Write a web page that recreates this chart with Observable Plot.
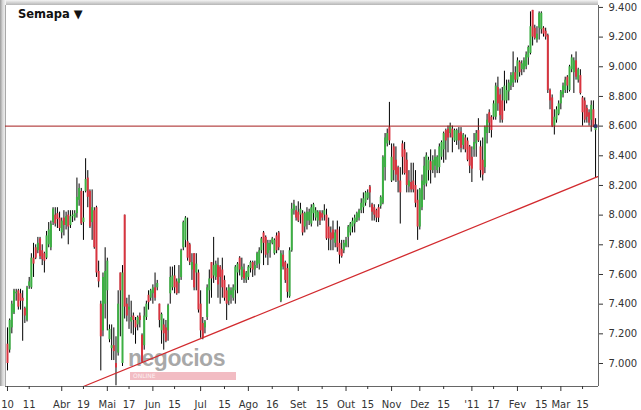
<!DOCTYPE html>
<html><head><meta charset="utf-8">
<script src="https://cdn.jsdelivr.net/npm/d3@7"></script>
<script src="https://cdn.jsdelivr.net/npm/@observablehq/plot@0.6"></script>
<style>
body{margin:0;background:#fff;}
#wrap{position:relative;width:641px;height:410px;overflow:hidden;font-family:"DejaVu Sans",Verdana,sans-serif;}
#chart{position:absolute;left:0;top:0;}
#title{position:absolute;left:18px;top:7px;font-weight:bold;font-size:11.5px;color:#111;z-index:3;}
#topshade{position:absolute;left:5px;top:0;width:593px;height:5px;background:linear-gradient(#f4f4f4,#b5b5b5);}
#leftshade{position:absolute;left:0;top:0;width:6px;height:386px;background:linear-gradient(to right,#9a9a9a,#d8d8d8 45%,#f6f6f6);}
#wm{position:absolute;left:128px;top:349px;height:18px;line-height:18px;overflow:visible;font-family:"Liberation Sans",Arial,sans-serif;font-weight:bold;font-size:23px;color:rgba(140,140,140,0.75);letter-spacing:-0.5px;}
#wmbar{position:absolute;left:130px;top:372px;width:106px;height:8px;background:rgba(236,160,170,0.7);font-size:6px;line-height:8px;color:rgba(255,255,255,0.8);padding-left:3px;box-sizing:border-box;}
</style></head>
<body><div id="wrap">
<div id="topshade"></div><div id="leftshade"></div>
<div id="wm">negocios</div><div id="wmbar">ONLINE</div>
<div id="chart"></div>
<div id="title">Semapa ▼</div>
</div>
<script>
const open = [
7.13,7.09,7.24,7.34,7.47,7.49,7.47,7.44,7.37,7.29,
7.52,7.51,7.71,7.78,7.76,7.84,7.76,7.74,7.71,7.80,
7.78,7.95,8.00,8.01,7.98,7.88,7.98,7.93,8.00,7.93,
7.99,7.98,8.01,8.10,8.16,7.95,8.16,8.25,8.16,7.95,
8.03,8.05,7.62,7.40,7.22,7.40,7.49,7.16,7.10,7.12,
7.00,7.07,7.61,7.00,8.00,7.40,7.36,7.28,7.32,7.29,
7.26,7.32,7.19,7.12,7.31,7.46,7.44,7.47,7.51,7.51,
7.40,7.22,7.26,7.24,7.22,7.47,7.51,7.59,7.55,7.54,
7.58,7.78,7.83,7.82,7.80,7.63,7.74,7.61,7.61,7.40,
7.27,7.24,7.31,7.49,7.68,7.59,7.58,7.66,7.65,7.63,
7.56,7.49,7.42,7.46,7.44,7.49,7.61,7.71,7.58,7.63,
7.56,7.58,7.64,7.68,7.63,7.66,7.67,7.76,7.88,7.85,
7.74,7.76,7.81,7.74,7.86,7.88,7.42,7.73,7.68,7.64,
7.45,7.76,8.03,8.03,8.02,8.00,8.01,7.92,7.96,7.96,
7.94,8.01,7.98,7.96,8.02,8.01,8.00,8.00,7.92,7.88,
7.90,7.81,7.90,7.81,7.77,7.76,7.79,7.85,7.88,7.92,
7.94,7.96,7.98,8.03,8.05,8.08,8.11,8.19,8.07,8.05,
8.03,8.05,8.06,8.08,8.32,8.48,8.59,8.23,8.46,8.37,
8.32,8.23,8.48,8.44,8.37,8.19,8.22,8.23,8.20,8.10,
7.92,8.05,8.20,8.21,8.30,8.36,8.30,8.33,8.30,8.32,
8.39,8.44,8.57,8.58,8.55,8.58,8.50,8.50,8.55,8.56,
8.47,8.52,8.50,8.46,8.39,8.44,8.48,8.57,8.46,8.37,
8.32,8.55,8.69,8.66,8.66,8.66,8.86,8.81,8.77,8.77,
8.77,8.83,8.87,8.89,8.96,8.91,9.03,8.98,8.98,9.00,
9.06,9.09,9.38,9.26,9.18,9.26,9.25,9.26,9.24,9.21,
8.84,8.79,8.60,8.64,8.68,8.75,8.81,8.84,8.93,8.84,
8.98,8.96,9.04,8.91,8.94,8.79,8.77,8.72,8.69,8.64,
8.71,8.57];
const high = [
7.24,7.30,7.42,7.50,7.50,7.50,7.50,7.49,7.38,7.52,
7.58,7.74,7.81,7.80,7.85,7.85,7.80,7.75,7.89,7.95,
7.96,8.05,8.05,8.05,8.02,7.98,8.03,8.02,8.03,8.03,
8.03,8.03,8.25,8.21,8.18,8.16,8.38,8.30,8.17,8.17,
8.05,8.06,7.69,7.42,7.61,7.78,7.71,7.26,7.26,7.24,
7.18,7.49,7.61,7.66,8.00,7.44,7.46,7.42,7.34,7.31,
7.32,7.34,7.20,7.38,7.42,7.49,7.50,7.53,7.61,7.56,
7.40,7.34,7.30,7.29,7.40,7.65,7.65,7.66,7.57,7.66,
7.77,7.96,7.99,7.98,7.81,7.74,7.74,7.74,7.63,7.49,
7.31,7.29,7.53,7.63,7.68,7.85,7.69,7.71,7.66,7.71,
7.59,7.51,7.53,7.51,7.53,7.66,7.68,7.72,7.71,7.67,
7.62,7.66,7.69,7.69,7.69,7.75,7.78,7.85,7.89,7.86,
7.83,7.83,7.85,7.84,7.88,7.89,7.76,7.76,7.69,7.67,
7.78,8.08,8.10,8.06,8.09,8.08,8.03,8.02,8.05,8.04,
8.07,8.08,8.05,8.03,8.03,8.03,8.07,8.04,7.98,7.92,
7.96,7.90,7.96,7.92,7.83,7.83,7.85,7.93,7.95,7.98,
8.00,8.02,8.04,8.11,8.15,8.16,8.17,8.20,8.08,8.07,
8.04,8.07,8.13,8.40,8.55,8.58,8.76,8.48,8.48,8.46,
8.33,8.32,8.50,8.49,8.42,8.30,8.35,8.35,8.30,8.17,
8.18,8.27,8.39,8.42,8.39,8.44,8.40,8.44,8.40,8.48,
8.50,8.56,8.58,8.60,8.62,8.60,8.58,8.58,8.59,8.59,
8.55,8.54,8.52,8.47,8.46,8.55,8.57,8.65,8.50,8.52,
8.60,8.68,8.71,8.67,8.77,8.89,8.93,8.85,8.86,8.97,
8.91,8.91,8.96,9.10,9.00,9.06,9.04,9.04,9.06,9.10,
9.14,9.37,9.38,9.28,9.27,9.37,9.37,9.27,9.26,9.22,
8.85,8.81,8.71,8.73,8.77,8.84,8.89,8.93,8.94,9.01,
9.08,9.06,9.10,8.99,8.98,8.80,8.79,8.74,8.71,8.77,
8.77,8.65];
const low = [
6.95,7.07,7.20,7.33,7.42,7.36,7.36,7.15,7.27,7.28,
7.50,7.50,7.58,7.70,7.74,7.70,7.66,7.61,7.70,7.78,
7.76,7.93,7.92,7.91,7.89,7.84,7.86,7.90,7.80,7.91,
7.95,7.96,7.98,8.06,7.93,7.83,8.15,8.05,7.91,7.83,
7.77,7.58,7.51,6.95,7.18,7.30,7.22,7.14,7.02,7.02,
6.85,7.05,7.18,6.98,7.30,7.28,7.23,7.20,7.19,7.13,
7.22,7.24,7.00,7.09,7.29,7.36,7.42,7.40,7.42,7.49,
7.24,7.13,7.09,7.14,7.15,7.40,7.49,7.47,7.46,7.47,
7.56,7.76,7.78,7.69,7.66,7.56,7.49,7.49,7.34,7.17,
7.16,7.20,7.29,7.40,7.44,7.54,7.56,7.44,7.40,7.44,
7.42,7.29,7.39,7.40,7.42,7.40,7.47,7.59,7.56,7.54,
7.54,7.56,7.61,7.58,7.59,7.64,7.63,7.74,7.66,7.71,
7.66,7.71,7.80,7.73,7.74,7.76,7.41,7.63,7.54,7.44,
7.44,7.75,8.00,7.96,7.95,7.94,7.86,7.88,7.90,7.93,
7.92,7.96,7.96,7.92,7.93,7.96,7.96,7.83,7.76,7.76,
7.76,7.78,7.75,7.67,7.71,7.74,7.78,7.78,7.86,7.88,
7.88,7.95,7.96,8.01,8.01,8.06,8.10,8.05,7.96,7.96,
7.95,7.95,8.04,8.07,8.23,8.46,8.47,8.22,8.23,8.22,
8.15,7.94,8.27,8.27,8.15,8.15,8.15,8.15,8.05,7.83,
7.90,8.03,8.10,8.19,8.23,8.21,8.28,8.25,8.28,8.28,
8.37,8.35,8.37,8.42,8.52,8.42,8.49,8.47,8.44,8.42,
8.44,8.42,8.36,8.28,8.22,8.39,8.39,8.49,8.25,8.23,
8.28,8.48,8.55,8.52,8.64,8.64,8.70,8.62,8.62,8.70,
8.75,8.77,8.84,8.86,8.89,8.89,8.93,8.94,8.96,8.98,
9.01,9.08,9.14,9.18,9.16,9.18,9.22,9.20,9.18,8.82,
8.71,8.59,8.54,8.62,8.67,8.71,8.79,8.82,8.82,8.83,
8.96,8.82,8.91,8.89,8.81,8.60,8.62,8.62,8.60,8.56,
8.59,8.25];
const close = [
7.00,7.29,7.40,7.49,7.48,7.38,7.42,7.42,7.32,7.51,
7.55,7.71,7.67,7.71,7.81,7.72,7.70,7.69,7.86,7.90,
7.94,8.04,7.94,7.97,7.91,7.96,7.93,7.99,7.92,7.99,
8.00,8.01,8.12,8.18,7.94,7.98,8.24,8.12,7.92,8.05,
7.78,7.61,7.55,7.18,7.58,7.62,7.69,7.23,7.12,7.08,
6.97,7.40,7.49,7.61,7.38,7.32,7.38,7.31,7.29,7.24,
7.31,7.29,7.01,7.32,7.40,7.41,7.49,7.51,7.44,7.54,
7.29,7.33,7.20,7.15,7.39,7.58,7.59,7.51,7.47,7.57,
7.76,7.95,7.98,7.71,7.68,7.68,7.51,7.67,7.36,7.22,
7.17,7.28,7.51,7.57,7.57,7.66,7.67,7.53,7.58,7.51,
7.44,7.40,7.51,7.49,7.51,7.65,7.67,7.63,7.65,7.57,
7.61,7.65,7.68,7.63,7.66,7.74,7.76,7.84,7.81,7.73,
7.81,7.81,7.84,7.83,7.76,7.78,7.74,7.65,7.56,7.48,
7.76,8.04,8.07,7.98,7.96,8.04,7.88,8.01,8.02,8.02,
8.05,8.07,8.03,8.02,7.96,7.98,8.03,7.84,7.84,7.83,
7.84,7.88,7.78,7.73,7.72,7.81,7.83,7.92,7.94,7.96,
7.98,8.01,8.03,8.08,8.11,8.15,8.15,8.15,8.02,8.00,
7.98,7.98,8.12,8.39,8.52,8.55,8.50,8.39,8.30,8.27,
8.23,8.15,8.39,8.28,8.20,8.23,8.17,8.17,8.08,7.92,
8.17,8.23,8.33,8.40,8.37,8.30,8.37,8.39,8.39,8.46,
8.49,8.55,8.50,8.52,8.60,8.52,8.57,8.57,8.50,8.45,
8.54,8.44,8.37,8.33,8.31,8.49,8.55,8.50,8.30,8.27,
8.59,8.64,8.62,8.57,8.75,8.87,8.75,8.67,8.64,8.87,
8.84,8.89,8.94,8.96,8.91,9.04,8.96,9.02,9.04,9.08,
9.13,9.27,9.20,9.19,9.22,9.36,9.36,9.22,9.20,8.84,
8.77,8.60,8.66,8.71,8.75,8.83,8.87,8.91,8.87,9.00,
9.06,9.04,8.93,8.98,8.82,8.69,8.64,8.66,8.62,8.74,
8.60,8.60];

const tickIndex = [0,10,25,35,46,56,67,77,89,100,111,122,134,145,156,166,177,190,201,214,224,235,246,255,265];
const tickLabel = ["10","11","Abr","19","Mai","17","Jun","15","Jul","15","Ago","16","Set","15","Out","15","Nov","Dez","15","'11","17","Fev","15","Mar","15"];
const yTicks = [7.0,7.2,7.4,7.6,7.8,8.0,8.2,8.4,8.6,8.8,9.0,9.2,9.4];
const resistance = [8.6];
const trendIndex = [35,272];
const trendValue = [6.845,8.26];

const candles = open.map((o,i)=>({i,o,h:high[i],l:low[i],c:close[i],
  col: close[i] >= open[i] ? "#3cb043" : "#d9343f"}));
const labelOf = new Map(tickIndex.map((d,k)=>[d,tickLabel[k]]));
const isMajor = (k)=> k===0 || isNaN(+tickLabel[k]);
const majorTicks = tickIndex.filter((d,k)=>isMajor(k));
const minorTicks = tickIndex.filter((d,k)=>!isMajor(k));
const trend = trendIndex.map((x,k)=>({x,y:trendValue[k]}));
const xDom = [-0.92, 272.35], yDom = [6.845, 9.413];

const chart = Plot.plot({
  width:641, height:410,
  marginLeft:5, marginRight:43, marginTop:5, marginBottom:24,
  style:{fontFamily:"'DejaVu Sans', Verdana, sans-serif", fontSize:"10px", color:"#222", background:"transparent"},
  x:{domain:xDom, axis:null},
  y:{domain:yDom, axis:null},
  color:{type:"identity"},
  marks:[
    Plot.ruleX([xDom[0]],{stroke:"#a8a8a8"}),
    Plot.ruleX(candles,{x:"i",y1:"l",y2:"h",stroke:"#000",strokeWidth:1}),
    Plot.ruleX(candles,{x:"i",y1:"o",y2:"c",stroke:"col",strokeWidth:2}),
    Plot.ruleY(resistance,{stroke:"#a51d1d",strokeWidth:1}),
    Plot.line(trend,{x:"x",y:"y",stroke:"#d22a2e",strokeWidth:1.3}),
    Plot.dot([candles[candles.length-1]],{x:"i",y:"c",symbol:"square",r:2,fill:"#2e3a6e"}),
    Plot.ruleX([xDom[1]],{stroke:"#666"}),
    Plot.ruleY([yDom[0]],{stroke:"#666"}),
    Plot.axisY(yTicks,{anchor:"right",tickSize:4,tickPadding:6,tickFormat:d3.format(".3f"),color:"#333"}),
    Plot.axisX(majorTicks,{anchor:"bottom",tickSize:5,tickPadding:9,tickFormat:d=>labelOf.get(d),color:"#333"}),
    Plot.axisX(minorTicks,{anchor:"bottom",tickSize:3,tickPadding:11,tickFormat:d=>labelOf.get(d),color:"#333"})
  ]
});
document.getElementById("chart").appendChild(chart);
</script>
</body></html>
